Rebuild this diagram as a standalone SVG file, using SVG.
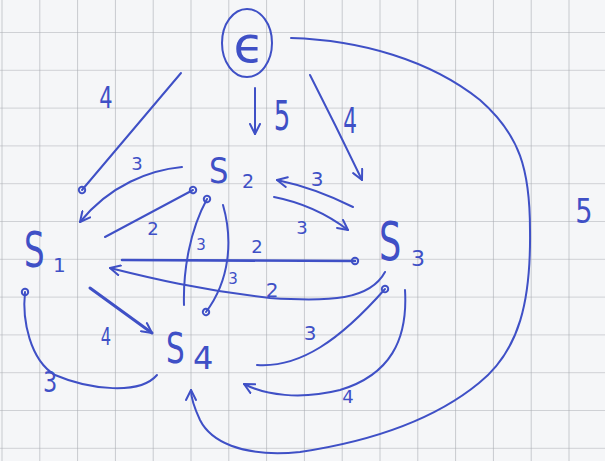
<svg xmlns="http://www.w3.org/2000/svg" width="605" height="461" viewBox="0 0 605 461">
<defs>
<pattern id="grid" patternUnits="userSpaceOnUse" x="1.5" y="-5.8" width="37.8" height="37.8">
<path d="M0,0 H37.8 M0,0 V37.8" fill="none" stroke="#a9acb2" stroke-width="1.2"/>
</pattern>
<marker id="arr" viewBox="0 0 12 12" refX="11" refY="6" markerWidth="12" markerHeight="12" markerUnits="userSpaceOnUse" orient="auto">
<path d="M1,1 L11,6 L1,11" fill="none" stroke="#3f50c6" stroke-width="2" stroke-linecap="round" stroke-linejoin="round"/>
</marker>
<marker id="dot" viewBox="0 0 10 10" refX="5" refY="5" markerWidth="10" markerHeight="10" markerUnits="userSpaceOnUse" orient="auto">
<circle cx="5" cy="5" r="3.2" fill="none" stroke="#3f50c6" stroke-width="2"/>
</marker>
<style>
.ink{fill:none;stroke:#3f50c6;stroke-width:2;stroke-linecap:round;stroke-linejoin:round}
.thick{stroke-width:3}
.a{marker-end:url(#arr)}
.d{marker-end:url(#dot)}
text{font-family:"DejaVu Sans","Liberation Sans",sans-serif;fill:#3f50c6}
.lbl{text-anchor:middle}
</style>
</defs>
<rect width="605" height="461" fill="#f5f6f8"/>
<rect width="605" height="461" fill="url(#grid)"/>

<g id="edges">
<path class="ink d" d="M181,73 L82,190"/>
<path class="ink a" d="M255,88 L255,134"/>
<path class="ink a" d="M310,75 Q336,126 362,180"/>
<path class="ink a" d="M291,38 C360,40 430,60 480,100 C520,135 530,170 530,230 C531,300 520,350 479,383 C440,415 380,440 300,452 C240,458 210,440 200,420 C193,405 191,398 191,390"/>
<path class="ink a" d="M182,167 C150,170 110,185 80,222"/>
<path class="ink d" d="M105,237 L193,190"/>
<path class="ink a" d="M274,197 Q315,205 348,230"/>
<path class="ink a" d="M353,207 Q315,188 277,180"/>
<path class="ink d" style="stroke-width:2.6" d="M122,260 L355,261"/>
<path class="ink a" d="M385,272 C370,300 330,302 270,298 C200,290 150,278 110,268"/>
<path class="ink d" d="M184,305 C183,270 190,230 207,199"/>
<path class="ink d" d="M223,205 C233,240 230,280 206,312"/>
<path class="ink a thick" d="M90,288 L152,333"/>
<path class="ink d" d="M157,375 C140,395 90,390 55,375 C30,360 22,320 25,292"/>
<path class="ink d" d="M257,365 C300,368 340,340 385,289"/>
<path class="ink a" d="M405,290 C408,340 390,375 340,390 C300,400 265,395 244,384"/>
<g class="lbl">
<text transform="translate(106,108) scale(0.7,1)" font-size="30">4</text>
<text transform="translate(282,130) scale(0.65,1)" font-size="40">5</text>
<text transform="translate(350,133) scale(0.6,1)" font-size="36">4</text>
<text transform="translate(584,223) scale(0.8,1)" font-size="34">5</text>
<text x="137" y="170" font-size="18">3</text>
<text x="153" y="235" font-size="18">2</text>
<text x="317" y="186" font-size="20">3</text>
<text x="302" y="234" font-size="18">3</text>
<text x="257" y="253" font-size="18">2</text>
<text x="272" y="297" font-size="20">2</text>
<text x="201" y="250" font-size="15">3</text>
<text x="233" y="284" font-size="15">3</text>
<text transform="translate(106,345) scale(0.65,1)" font-size="25">4</text>
<text transform="translate(50,392) scale(0.8,1)" font-size="28">3</text>
<text x="310" y="340" font-size="20">3</text>
<text x="348" y="403" font-size="18">4</text>
</g>
</g>

<g id="node-E">
<ellipse cx="247" cy="43" rx="25" ry="34" class="ink"/>
<text x="249" y="62" font-size="50" text-anchor="middle">ϵ</text>
</g>
<g id="node-S1">
<text transform="translate(24,267) scale(0.65,1)" font-size="50">S</text>
<text x="53" y="272" font-size="20">1</text>
</g>
<g id="node-S2">
<text transform="translate(209,183) scale(0.85,1)" font-size="36">S</text>
<text x="242" y="188" font-size="19">2</text>
</g>
<g id="node-S3">
<text transform="translate(379,260) scale(0.65,1)" font-size="54">S</text>
<text x="411" y="266" font-size="22">3</text>
</g>
<g id="node-S4">
<text transform="translate(166,363) scale(0.7,1)" font-size="42">S</text>
<text x="193" y="369" font-size="32">4</text>
</g>
</svg>
